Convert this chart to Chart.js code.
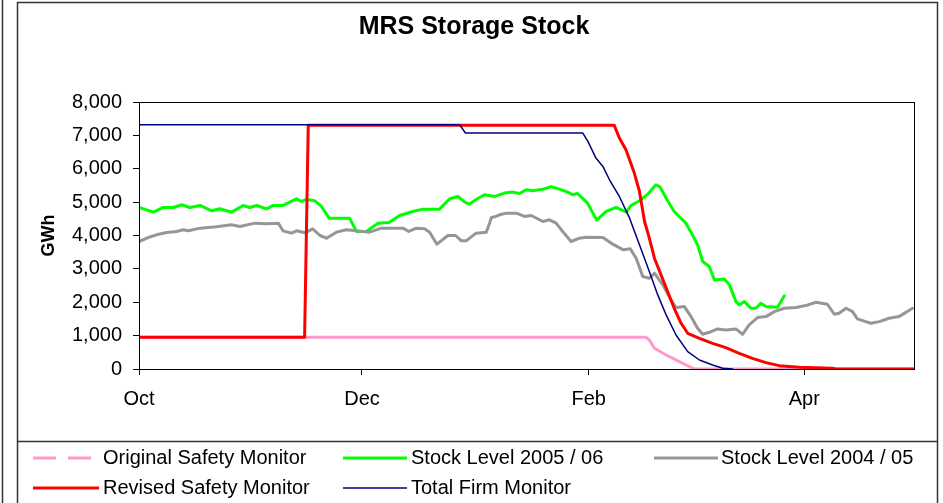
<!DOCTYPE html>
<html>
<head>
<meta charset="utf-8">
<script src="https://cdn.jsdelivr.net/npm/chart.js@4.4.1/dist/chart.umd.min.js"></script>
<style>
html, body { margin: 0; padding: 0; background: #fff; }
#wrap { position: relative; width: 943px; height: 503px; }
</style>
</head>
<body>
<div id="wrap"><canvas id="mrsChart" width="943" height="503"></canvas></div>
<script>
// x axis = days since 1 Oct
const tickDays = [0, 61, 123, 182];
const tickLabels = ['Oct', 'Dec', 'Feb', 'Apr'];

// Original Safety Monitor
const origDays = [0, 138.7, 139.6, 141, 144.2, 147.8, 151.9, 212];
const origVals = [950, 950, 870, 620, 420, 220, 0, 0];

// Stock Level 2005 / 06
const stock0506Days = [0, 4, 6.6, 9.4, 11.7, 13.9, 16.7, 19.9, 22.1, 25.3, 28.5, 30.3, 32.2, 34.9, 36.7, 39.4,
    43.1, 44.4, 45.8, 48.1, 49.9, 52, 57.6, 59.5, 62.2, 65.4, 68.4, 71.3, 74.9, 77.7, 82.2, 85, 87.2, 89.1,
    90.4, 92.2, 94.5, 97.3, 100, 102.3, 104.1, 105.9, 107.7, 110.5, 112.7, 115, 117.3, 118.6, 120, 122.7,
    125.2, 127.8, 130.5, 133.3, 134.6, 136.9, 139.2, 141.4, 142.5, 144.6, 146.4, 149.6, 151.4, 152.8, 154.2,
    156, 157.4, 160.1, 161.5, 163.3, 164.2, 165.6, 167.4, 168.8, 170.1, 171.5, 174.7, 176.5];
const stock0506Vals = [4840, 4700, 4840, 4840, 4920, 4840, 4900, 4740, 4800, 4700, 4900, 4840, 4900, 4800, 4900, 4900,
    5100, 5020, 5080, 5040, 4870, 4520, 4520, 4120, 4120, 4370, 4390, 4600, 4720, 4790, 4790, 5100, 5170, 5000,
    4940, 5080, 5220, 5170, 5270, 5300, 5260, 5370, 5340, 5390, 5460, 5390, 5300, 5220, 5260, 4970,
    4460, 4720, 4840, 4700, 4900, 5040, 5240, 5520, 5460, 5040, 4720, 4370, 4020, 3720, 3220,
    3070, 2670, 2700, 2520, 2020, 1920, 2020, 1820, 1820, 1970, 1870, 1850, 2190];

// Stock Level 2004 / 05
const stock0405Days = [0, 2.5, 4.8, 7.6, 10.3, 12.1, 13.5, 16.7, 21.2, 25.3, 27.6, 31.7, 34.9, 38.1, 39.4, 41.7,
    43.1, 45.4, 47.5, 49.5, 51.3, 54, 56.7, 59.5, 63.1, 66.3, 69.5, 72.2, 73.8, 75.9, 78.1, 79.5, 81.5, 84.5,
    86.6, 88.2, 89.5, 92.2, 95, 95.9, 96.4, 97.3, 98.6, 100.5, 103.2, 105.5, 107.3, 110.5, 112.3, 114.1, 115.9,
    118.2, 120.5, 122.3, 126.9, 129.6, 132.5, 134.4, 136, 137.8, 139.6, 141, 143.3, 145.5, 146.9, 149.2, 151,
    152.8, 154.2, 156, 158.3, 160.6, 163.3, 165.1, 166.9, 169.2, 171.5, 173.8, 176.5, 179.7, 182.4, 185.2,
    188.3, 190.2, 191.5, 193.4, 195.2, 196.5, 198.8, 200.2, 202.5, 205.2, 207.9, 211.6];
const stock0405Vals = [3820, 3940, 4020, 4090, 4120, 4170, 4140, 4220, 4260, 4320, 4270, 4370, 4350, 4370, 4140, 4070,
    4140, 4080, 4200, 4000, 3920, 4100, 4170, 4140, 4100, 4220, 4220, 4220, 4120, 4220, 4200, 4100, 3740, 4000,
    4000, 3840, 3840, 4070, 4100, 4370, 4540, 4560, 4620, 4670, 4670, 4570, 4600, 4420, 4470, 4370, 4120,
    3820, 3920, 3950, 3940, 3740, 3570, 3600, 3320, 2770, 2720, 2870, 2520, 2070, 1840, 1870, 1570,
    1220, 1040, 1100, 1200, 1170, 1200, 1040, 1320, 1540, 1570, 1720, 1820, 1840, 1900, 2000,
    1940, 1640, 1670, 1820, 1720, 1500, 1420, 1370, 1420, 1520, 1570, 1820];

// Revised Safety Monitor
const revisedDays = [0, 45.3, 46.3, 130, 131.4, 133.2, 135.5, 136.9, 138.3, 139.6, 141, 142.8, 144.6, 146.4,
    148.3, 150.1, 153.3, 156.9, 160.5, 164.2, 167.8, 171.5, 175.1, 180.6, 189.7, 190.6, 212];
const revisedVals = [950, 950, 7300, 7300, 6920, 6570, 5870, 5320, 4420, 3920, 3320, 2820, 2320, 1820,
    1370, 1070, 920, 770, 640, 470, 320, 190, 100, 50, 20, 0, 0];

// Total Firm Monitor
const firmDays = [0, 87.7, 89.3, 121.4, 122.8, 125, 126.9, 128.7, 131.4, 134.2, 136.9, 139.6, 141.9, 144.2,
    146.9, 150.1, 153.3, 156.9, 159.7, 162.4];
const firmVals = [7320, 7320, 7070, 7070, 6820, 6320, 6070, 5670, 5170, 4520, 3720, 2920, 2220, 1620,
    1020, 520, 270, 120, 20, 0];

const FONT = '"Liberation Sans", Arial, sans-serif';

function pts(days, vals) {
    return days.map((d, i) => ({ x: d, y: vals[i] }));
}

function series(label, days, vals, color, width, order) {
    return {
        label,
        data: pts(days, vals),
        borderColor: color,
        backgroundColor: color,
        borderWidth: width,
        pointRadius: 0,
        tension: 0,
        fill: false,
        borderJoinStyle: 'round',
        borderCapStyle: 'round',
        order
    };
}

const datasets = [
    series('Original Safety Monitor', origDays, origVals, '#ff99cc', 3, 5),
    series('Stock Level 2005 / 06', stock0506Days, stock0506Vals, '#00ff00', 3, 4),
    series('Stock Level 2004 / 05', stock0405Days, stock0405Vals, '#969696', 3, 3),
    series('Revised Safety Monitor', revisedDays, revisedVals, '#ff0000', 3, 2),
    series('Total Firm Monitor', firmDays, firmVals, '#000080', 1.5, 1)
];
datasets[0].legendDash = [23, 12];

// legend slots: [datasetIndex, lineX1, lineX2, textX, lineY]
const legendSlots = [
    [0, 33, 99, 103, 458],
    [1, 343, 407, 411, 458],
    [2, 654, 718, 721, 458],
    [3, 33, 99, 103, 488],
    [4, 343, 407, 411, 488]
];

const framePlugin = {
    id: 'framePlugin',
    afterDraw(chart) {
        const ctx = chart.ctx;
        const a = chart.chartArea;
        ctx.save();
        // outer chart frame
        ctx.strokeStyle = '#333';
        ctx.lineWidth = 1.5;
        ctx.beginPath();
        ctx.moveTo(2.5, 0); ctx.lineTo(2.5, 503);
        ctx.moveTo(17.5, 503); ctx.lineTo(17.5, 2.5); ctx.lineTo(937.5, 2.5); ctx.lineTo(937.5, 503);
        ctx.moveTo(17.5, 441.5); ctx.lineTo(937.5, 441.5);
        ctx.stroke();
        // plot area box
        ctx.strokeStyle = '#000';
        ctx.lineWidth = 1;
        ctx.strokeRect(a.left + 0.5, a.top + 0.5, a.right - a.left, a.bottom - a.top);
        // title
        ctx.fillStyle = '#000';
        ctx.font = 'bold 25px ' + FONT;
        ctx.textAlign = 'center';
        ctx.textBaseline = 'alphabetic';
        ctx.fillText('MRS Storage Stock', 474, 34);
        // legend
        ctx.font = '20px ' + FONT;
        ctx.textAlign = 'left';
        ctx.textBaseline = 'middle';
        legendSlots.forEach(([i, x1, x2, tx, y]) => {
            const ds = chart.data.datasets[i];
            ctx.strokeStyle = ds.borderColor;
            ctx.lineWidth = ds.borderWidth;
            ctx.setLineDash(ds.legendDash || []);
            ctx.beginPath();
            ctx.moveTo(x1, y);
            ctx.lineTo(x2, y);
            ctx.stroke();
            ctx.setLineDash([]);
            ctx.fillStyle = '#000';
            ctx.fillText(ds.label, tx, y);
        });
        ctx.restore();
    }
};

new Chart(document.getElementById('mrsChart'), {
    type: 'line',
    data: { datasets },
    plugins: [framePlugin],
    options: {
        responsive: false,
        animation: false,
        devicePixelRatio: 1,
        layout: { padding: { left: 0, top: 102, right: 29, bottom: 0 } },
        plugins: {
            legend: { display: false },
            title: { display: false },
            tooltip: { enabled: false }
        },
        scales: {
            x: {
                type: 'linear',
                min: 0,
                max: 212,
                afterFit: (s) => { s.height = 134; },
                afterBuildTicks: (s) => { s.ticks = tickDays.map(v => ({ value: v })); },
                grid: { drawOnChartArea: false, drawTicks: true, tickLength: 6, tickColor: '#000' },
                border: { display: true, color: '#000', width: 1 },
                ticks: {
                    autoSkip: false,
                    maxRotation: 0,
                    padding: 12,
                    color: '#000',
                    font: { family: FONT, size: 20 },
                    callback: (v) => tickLabels[tickDays.indexOf(v)]
                }
            },
            y: {
                min: 0,
                max: 8000,
                afterFit: (s) => { s.width = 139; },
                grid: { drawOnChartArea: false, drawTicks: true, tickLength: 6, tickColor: '#000' },
                border: { display: true, color: '#000', width: 1 },
                ticks: {
                    stepSize: 1000,
                    padding: 11,
                    color: '#000',
                    font: { family: FONT, size: 20 },
                    callback: (v) => v.toLocaleString('en-US')
                },
                title: {
                    display: true,
                    text: 'GWh',
                    color: '#000',
                    font: { family: FONT, size: 18, weight: 'bold' },
                    padding: { top: 38, bottom: 0 }
                }
            }
        }
    }
});
</script>
</body>
</html>
